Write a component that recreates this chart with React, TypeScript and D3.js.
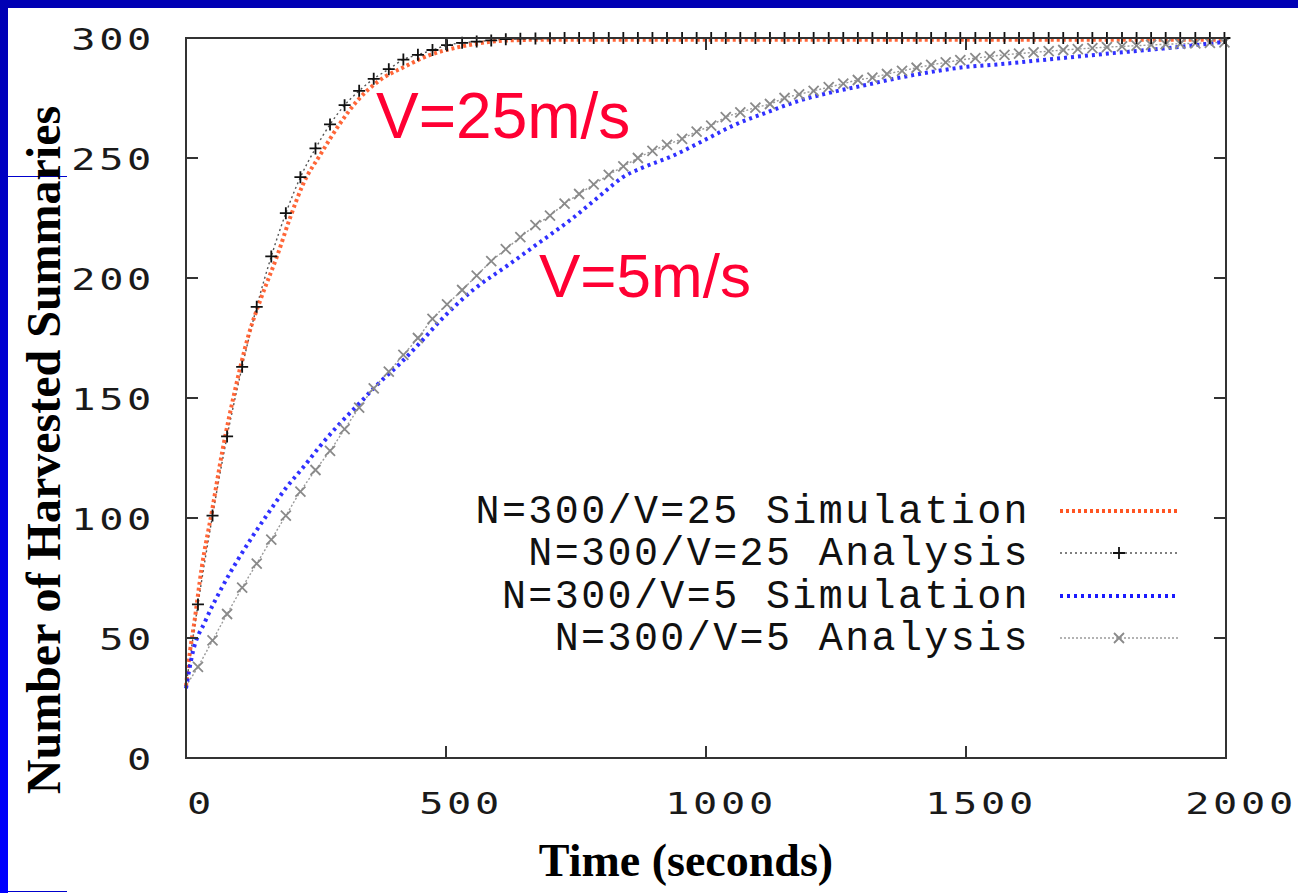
import React from 'react';
import * as d3 from 'd3';

// time points (seconds) of the analytic curves
const analysisTimes = [
  0, 23, 51, 79, 108, 136, 164, 192, 220, 249, 277, 305, 333, 361, 390, 418, 446, 474, 502, 531,
  559, 587, 615, 643, 672, 700, 728, 756, 784, 813, 841, 869, 897, 925, 954, 982, 1010, 1038, 1066, 1095,
  1123, 1151, 1179, 1207, 1236, 1264, 1292, 1320, 1348, 1377, 1405, 1433, 1461, 1489, 1518, 1546, 1574, 1602, 1630, 1659,
  1687, 1715, 1743, 1771, 1800, 1828, 1856, 1884, 1912, 1941, 1969, 1997,
];

const v25Analysis = [
  30, 64, 101, 134, 163, 188, 209, 227, 242, 254, 264, 272, 278, 283, 287, 291, 293, 295, 297, 298,
  298.5, 299, 299.5, 299.7, 299.8, 299.9, 300, 300, 300, 300, 300, 300, 300, 300, 300, 300, 300, 300, 300, 300,
  300, 300, 300, 300, 300, 300, 300, 300, 300, 300, 300, 300, 300, 300, 300, 300, 300, 300, 300, 300,
  300, 300, 300, 300, 300, 300, 300, 300, 300, 300, 300, 300,
];

const v5Analysis = [
  30, 38, 49, 60, 71, 81, 91, 101, 111, 120, 128, 137, 146, 154, 161, 168, 175, 183, 189, 195,
  201, 207, 212, 217, 222, 226, 231, 235, 239, 243, 246.5, 250, 253, 255.5, 258, 261, 263.5, 267, 269, 271,
  272.5, 275, 276.5, 278, 279.5, 281, 282.5, 283.5, 285, 286.3, 287.6, 288.8, 289.8, 290.8, 291.6, 292.3, 293, 293.5, 294, 294.5,
  295, 295.4, 295.8, 296.2, 296.5, 296.8, 297.1, 297.4, 297.6, 297.8, 298, 298.2,
];

// simulation curves
const v25SimTimes = [0, 8, 15, 30, 50, 70, 95, 120, 145, 175, 200, 225, 260, 295, 330, 370, 420, 470, 520, 570, 620, 700, 1000, 1500, 2000];
const v25Sim = [30, 45, 55, 79, 103, 128, 154, 176, 192, 209, 225, 239, 252, 264, 274, 282, 288, 293, 296, 298, 299, 299.3, 299.3, 299.3, 299.3];

const v5SimTimes = [
  0, 13, 37, 69, 98, 127, 158, 194, 225, 258, 290, 330, 370, 410, 450, 488, 552, 617, 681, 744,
  800, 822, 840, 873, 937, 1002, 1052, 1117, 1181, 1244, 1309, 1373, 1437, 1502, 1560, 1655, 1783, 1912, 2000,
];
const v5Sim = [
  29, 44, 57, 71, 82, 92, 102, 113, 121, 130, 138, 147, 156, 164, 173, 182, 195, 205, 215, 225,
  235, 239, 242, 245.5, 251, 258, 263.5, 269, 274, 277.5, 280.5, 283.5, 286, 288, 289, 291, 293.7, 296.3, 298.5,
];

const xTicks = [0, 500, 1000, 1500, 2000];
const yTicks = [0, 50, 100, 150, 200, 250, 300];

const legendItems = [
  { label: 'N=300/V=25 Simulation', kind: 'v25sim' },
  { label: 'N=300/V=25 Analysis', kind: 'v25an' },
  { label: 'N=300/V=5 Simulation', kind: 'v5sim' },
  { label: 'N=300/V=5 Analysis', kind: 'v5an' },
];

const W = 1298;
const H = 893;
const left = 186, right = 1226, top = 38, bottom = 758;

const ORANGE = '#ff5522';
const BLUE = '#1a1aff';
const RED = '#ff0033';

const plus = (x: number, y: number, s = 6) => `M${x - s},${y}h${2 * s}M${x},${y - s}v${2 * s}`;
const cross = (x: number, y: number, s = 5) => `M${x - s},${y - s}L${x + s},${y + s}M${x - s},${y + s}L${x + s},${y - s}`;

export default function App() {
  const x = d3.scaleLinear().domain([0, 2000]).range([left, right]);
  const y = d3.scaleLinear().domain([0, 300]).range([bottom, top]);

  const line = d3.line<[number, number]>().x(d => x(d[0])).y(d => y(d[1])).curve(d3.curveMonotoneX);
  const zip = (ts: number[], vs: number[]) => ts.map((t, i) => [t, vs[i]] as [number, number]);

  const sim25 = zip(v25SimTimes, v25Sim);
  const sim5 = zip(v5SimTimes, v5Sim);
  const an25 = zip(analysisTimes, v25Analysis);
  const an5 = zip(analysisTimes, v5Analysis);

  const tickFont = { fontFamily: '"DejaVu Sans Mono", monospace', fontSize: 31, fill: '#1a1a1a', letterSpacing: 2.8 };
  const legendY = [511, 553, 596, 638];

  return (
    <svg width={W} height={H} style={{ position: 'absolute', left: 0, top: 0, background: '#fff' }}>
      <defs>
        <linearGradient id="sideBar" x1="0" y1="0" x2="0" y2="1">
          <stop offset="0" stopColor="#0000b4" />
          <stop offset="1" stopColor="#0000ff" />
        </linearGradient>
      </defs>
      {/* slide frame */}
      <rect x={0} y={0} width={W} height={H} fill="#fff" />
      <rect x={0} y={0} width={W} height={8} fill="#0000b4" />
      <rect x={0} y={0} width={8} height={H} fill="url(#sideBar)" />
      <line x1={8} x2={67} y1={176.5} y2={176.5} stroke="#0000cc" strokeWidth={1.2} />
      <line x1={8} x2={67} y1={891.5} y2={891.5} stroke="#0000cc" strokeWidth={1.2} />

      {/* curves */}
      <path d={line(an25) || ''} fill="none" stroke="#555" strokeWidth={1.4} strokeDasharray="2 3" />
      <path d={line(an5) || ''} fill="none" stroke="#9a9a9a" strokeWidth={1.4} strokeDasharray="2 2" />
      <path d={line(sim25) || ''} fill="none" stroke={ORANGE} strokeWidth={4} strokeDasharray="3 3" opacity={0.9} />
      <path d={line(sim5) || ''} fill="none" stroke={BLUE} strokeWidth={4} strokeDasharray="3 4" opacity={0.9} />
      {an5.slice(1).map((d, i) => (
        <path key={'x' + i} d={cross(x(d[0]), y(d[1]))} stroke="#8a8a8a" strokeWidth={1.8} fill="none" />
      ))}
      {an25.slice(1).map((d, i) => (
        <path key={'p' + i} d={plus(x(d[0]), y(d[1]))} stroke="#111" strokeWidth={1.8} fill="none" />
      ))}

      {/* frame and ticks */}
      <rect x={left} y={top} width={right - left} height={bottom - top} fill="none" stroke="#333" strokeWidth={2} />
      {yTicks.map(t => (
        <g key={'yt' + t}>
          <line x1={left} x2={left + 12} y1={y(t)} y2={y(t)} stroke="#333" strokeWidth={2} />
          <line x1={right - 12} x2={right} y1={y(t)} y2={y(t)} stroke="#333" strokeWidth={2} />
          <text transform={`translate(155,${y(t) + 12}) scale(1.3,1)`} textAnchor="end" {...tickFont}>{t}</text>
        </g>
      ))}
      {xTicks.map(t => (
        <g key={'xt' + t}>
          <line x1={x(t)} x2={x(t)} y1={bottom} y2={bottom - 12} stroke="#333" strokeWidth={2} />
          <line x1={x(t)} x2={x(t)} y1={top} y2={top + 12} stroke="#333" strokeWidth={2} />
          <text transform={`translate(${x(t) + 15},${814}) scale(1.3,1)`} textAnchor="middle" {...tickFont}>{t}</text>
        </g>
      ))}

      {/* legend */}
      {legendItems.map((it, i) => {
        const ly = legendY[i];
        return (
          <g key={it.kind}>
            <text x={1030} y={ly + 12} textAnchor="end" fontFamily='"Liberation Mono", "Courier New", monospace' fontSize={40} letterSpacing={2.4} fill="#111">{it.label}</text>
            {it.kind === 'v25sim' && <line x1={1060} x2={1178} y1={ly} y2={ly} stroke={ORANGE} strokeWidth={4} strokeDasharray="3 3" />}
            {it.kind === 'v5sim' && <line x1={1060} x2={1178} y1={ly} y2={ly} stroke={BLUE} strokeWidth={4} strokeDasharray="3 4" />}
            {it.kind === 'v25an' && (
              <g>
                <line x1={1060} x2={1178} y1={ly} y2={ly} stroke="#555" strokeWidth={1.4} strokeDasharray="2 3" />
                <path d={plus(1119, ly)} stroke="#111" strokeWidth={1.8} />
              </g>
            )}
            {it.kind === 'v5an' && (
              <g>
                <line x1={1060} x2={1178} y1={ly} y2={ly} stroke="#9a9a9a" strokeWidth={1.4} strokeDasharray="2 2" />
                <path d={cross(1119, ly)} stroke="#8a8a8a" strokeWidth={1.8} />
              </g>
            )}
          </g>
        );
      })}

      {/* annotations */}
      <text x={376} y={138} fontFamily='"Liberation Sans", Arial, sans-serif' fontSize={64} fill={RED}>V=25m/s</text>
      <text x={539} y={297} fontFamily='"Liberation Sans", Arial, sans-serif' fontSize={62} fill={RED}>V=5m/s</text>

      {/* axis titles */}
      <text x={686} y={876} textAnchor="middle" fontFamily='"Liberation Serif", "Times New Roman", serif' fontWeight="bold" fontSize={46} fill="#000">Time (seconds)</text>
      <text transform="translate(60,450) rotate(-90)" textAnchor="middle" fontFamily='"Liberation Serif", "Times New Roman", serif' fontWeight="bold" fontSize={48} fill="#000">Number of Harvested Summaries</text>
    </svg>
  );
}
